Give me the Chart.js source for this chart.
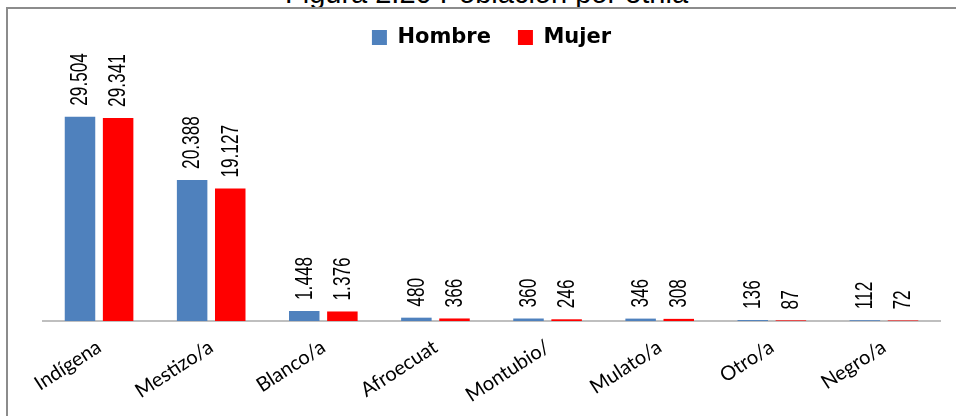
<!DOCTYPE html>
<html>
<head>
<meta charset="utf-8">
<script src="https://cdn.jsdelivr.net/npm/chart.js@4/dist/chart.umd.min.js"></script>
<style>
  html, body { margin: 0; padding: 0; background: #fff; overflow: hidden; }
  #wrap { position: relative; width: 956px; height: 416px; }
  #title {
    position: absolute; left: 0; top: -23px; width: 973px; text-align: center;
    font-family: "Liberation Sans", Arial, sans-serif; font-size: 29px; color: #000;
  }
  #frame {
    position: absolute; left: 6px; top: 7px; width: 1000px; height: 500px;
    border: 2px solid #8c8c8c; box-sizing: border-box;
  }
  canvas { position: absolute; left: 0; top: 0; }
</style>
</head>
<body>
<div id="wrap">
  <div id="title">Figura 2.20 Población por etnia</div>
  <div id="frame"></div>
  <canvas id="chart" width="956" height="416"></canvas>
</div>
<script>
const categories = ["Indígena", "Mestizo/a", "Blanco/a", "Afroecuat", "Montubio/", "Mulato/a", "Otro/a", "Negro/a"];
const hombre = [29504, 20388, 1448, 480, 360, 346, 136, 112];
const mujer = [29341, 19127, 1376, 366, 246, 308, 87, 72];

const BLUE = "#4f81bd";
const RED = "#ff0000";

function fmt(v) {
  // separador de miles con punto
  return String(v).replace(/\B(?=(\d{3})+(?!\d))/g, ".");
}

// etiquetas verticales encima de cada barra (letra estrecha)
const valueLabels = {
  id: "valueLabels",
  afterDatasetsDraw(chart) {
    const ctx = chart.ctx;
    ctx.save();
    ctx.fillStyle = "#000";
    ctx.font = '23px "Liberation Sans", Arial, sans-serif';
    ctx.textAlign = "left";
    ctx.textBaseline = "middle";
    chart.data.datasets.forEach((ds, i) => {
      chart.getDatasetMeta(i).data.forEach((bar, j) => {
        ctx.save();
        ctx.translate(bar.x, bar.y - 11);
        ctx.rotate(-Math.PI / 2);
        ctx.scale(0.75, 1);
        ctx.fillText(fmt(ds.data[j]), 0, 1);
        ctx.restore();
      });
    });
    ctx.restore();
  }
};

new Chart(document.getElementById("chart"), {
  type: "bar",
  data: {
    labels: categories,
    datasets: [
      { label: "Hombre", data: hombre, backgroundColor: BLUE },
      { label: "Mujer", data: mujer, backgroundColor: RED }
    ]
  },
  options: {
    responsive: false,
    animation: false,
    layout: { padding: { left: 43, right: 16, top: 0, bottom: 0 } },
    datasets: { bar: { categoryPercentage: 0.68, barPercentage: 0.8 } },
    scales: {
      x: {
        grid: { display: false, drawTicks: false },
        border: { display: true, color: "#bfbfbf", width: 2 },
        ticks: {
          color: "#000",
          font: { family: "Lato, 'Open Sans', sans-serif", size: 20 },
          minRotation: 33,
          maxRotation: 33,
          padding: 14,
          autoSkip: false
        },
        afterFit(scale) { scale.height = 95; }
      },
      y: {
        display: false,
        min: 0,
        max: 38000
      }
    },
    plugins: {
      legend: {
        position: "top",
        align: "center",
        labels: {
          color: "#000",
          boxWidth: 15,
          boxHeight: 15,
          padding: 27,
          font: { family: "'DejaVu Sans', sans-serif", size: 21, weight: "bold" }
        }
      },
      tooltip: { enabled: false }
    }
  },
  plugins: [valueLabels]
});
</script>
</body>
</html>
